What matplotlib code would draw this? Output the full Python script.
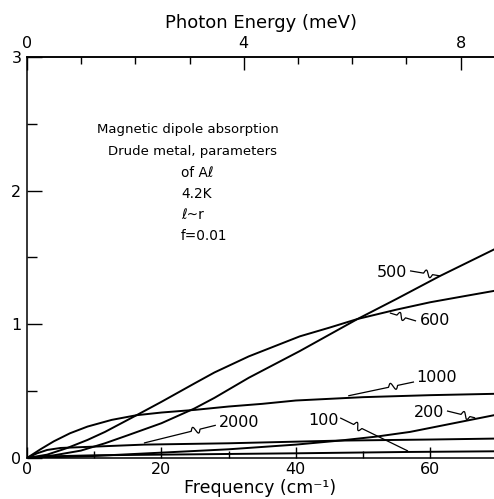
import numpy as np
import matplotlib
matplotlib.use("Agg")
import matplotlib.pyplot as plt
from matplotlib.ticker import MultipleLocator, FixedLocator

# -----------------------
# Absorption curves (frequency in cm^-1, absorption in %)
# -----------------------
x_500 = [0, 4, 8, 11.6, 15, 20, 24.9, 27.9, 33, 40.6, 49.2, 55, 61.4, 69.5]
y_500 = [0, 0.02, 0.055, 0.11, 0.17, 0.26, 0.37, 0.45, 0.60, 0.80, 1.04, 1.19, 1.36, 1.56]

x_600 = [0, 3, 6, 9, 11.6, 16.3, 20, 25, 27.9, 33, 40.6, 45, 49.2, 55, 60, 65, 69.5]
y_600 = [0, 0.025, 0.075, 0.135, 0.195, 0.32, 0.42, 0.56, 0.64, 0.76, 0.91, 0.975, 1.04, 1.11, 1.165, 1.21, 1.25]

x_1000 = [0, 2, 4, 6.4, 9, 12.6, 16.3, 20, 25, 30, 35, 40, 50, 60, 69.5]
y_1000 = [0, 0.065, 0.125, 0.185, 0.235, 0.285, 0.32, 0.34, 0.36, 0.385, 0.405, 0.43, 0.455, 0.47, 0.48]

x_2000 = [0, 1.5, 3, 5, 10, 17.4, 30, 46.5, 60, 69.5]
y_2000 = [0, 0.035, 0.06, 0.075, 0.085, 0.10, 0.11, 0.13, 0.138, 0.145]

x_200 = [0, 10, 20, 30, 40, 46.5, 52, 57, 63, 69.5]
y_200 = [0, 0.015, 0.04, 0.065, 0.10, 0.13, 0.16, 0.195, 0.255, 0.32]

x_100 = [0, 3, 10, 20, 40, 56.6, 69.5]
y_100 = [0, 0.012, 0.02, 0.025, 0.035, 0.045, 0.05]

series = [(x_500, y_500), (x_600, y_600), (x_1000, y_1000),
          (x_2000, y_2000), (x_200, y_200), (x_100, y_100)]

# curve labels: text, label centre, leader start, leader end, wiggle position
curve_labels = ["500", "600", "1000", "200", "100", "2000"]
label_xy = [(54.3, 1.39), (60.7, 1.025), (61.0, 0.60), (59.8, 0.344), (44.1, 0.284), (31.6, 0.262)]
leader_from = [(57.0, 1.40), (57.9, 1.025), (57.6, 0.569), (62.5, 0.352), (46.6, 0.30), (28.1, 0.245)]
leader_to = [(61.5, 1.362), (54.0, 1.085), (47.8, 0.465), (66.7, 0.30), (56.7, 0.052), (17.4, 0.112)]
wiggle_at = [0.45, 0.4, 0.25, 0.5, 0.2, 0.22]

note_lines = ["of A\u2113", "4.2K", "\u2113~r", "f=0.01"]

CM_PER_MEV = 8.0655

FONT = "DejaVu Sans"
plt.rcParams["font.family"] = FONT


def cm_to_mev(x):
    return np.asarray(x) / CM_PER_MEV


def mev_to_cm(e):
    return np.asarray(e) * CM_PER_MEV


def leader(ax, p0, p1, frac, width=9.0, amp=3.5):
    # straight pointer with a small s-bend, built in pixel space
    t = ax.transData
    a = t.transform(p0)
    b = t.transform(p1)
    d = b - a
    length = np.hypot(*d)
    u = d / length
    n = np.array([-u[1], u[0]])
    s = np.linspace(0, length, 300)
    s0 = frac * length
    off = np.zeros_like(s)
    m = (s >= s0) & (s <= s0 + width)
    off[m] = amp * np.sin(2 * np.pi * (s[m] - s0) / width)
    pts = a + np.outer(s, u) + np.outer(off, n)
    data = t.inverted().transform(pts)
    ax.plot(data[:, 0], data[:, 1], color="black", lw=0.9, solid_capstyle="butt")


fig = plt.figure(figsize=(4.94, 4.99), dpi=100)
ax = fig.add_axes([0.0547, 0.0822, 0.9453, 0.8036])

for xs, ys in series:
    ax.plot(xs, ys, color="black", lw=1.4)

ax.set_xlim(0, 69.5)
ax.set_ylim(0, 3)
ax.spines["right"].set_visible(False)
for sp in ("left", "bottom", "top"):
    ax.spines[sp].set_linewidth(1.1)

ax.xaxis.set_major_locator(FixedLocator([0, 20, 40, 60]))
ax.xaxis.set_minor_locator(MultipleLocator(10))
ax.yaxis.set_major_locator(FixedLocator([0, 1, 2, 3]))
ax.yaxis.set_minor_locator(MultipleLocator(0.5))
ax.tick_params(axis="x", which="major", direction="in", length=8, width=1.0, labelsize=11.5, pad=3)
ax.tick_params(axis="x", which="minor", direction="in", length=5, width=1.0)
ax.tick_params(axis="y", which="major", direction="in", length=11, width=1.0, labelsize=11.5, pad=4)
ax.tick_params(axis="y", which="minor", direction="in", length=7, width=1.0)
ax.set_xlabel("Frequency (cm\u207b\u00b9)", fontsize=12.5, va="bottom")
ax.xaxis.set_label_coords(0.5, -0.097)

sec = ax.secondary_xaxis("top", functions=(cm_to_mev, mev_to_cm))
sec.xaxis.set_major_locator(FixedLocator([0, 4, 8]))
sec.xaxis.set_minor_locator(MultipleLocator(1))
sec.tick_params(axis="x", which="major", direction="in", length=9, width=1.0, labelsize=11.5, pad=4)
sec.tick_params(axis="x", which="minor", direction="in", length=5, width=1.0)
sec.spines["top"].set_linewidth(1.1)
sec.set_xlabel("Photon Energy (meV)", fontsize=13, labelpad=6)

# description block
ax.text(23.9, 2.455, "Magnetic dipole absorption", fontsize=9.5, ha="center", va="center")
ax.text(24.6, 2.295, "Drude metal, parameters", fontsize=9.5, ha="center", va="center")
for i, line in enumerate(note_lines):
    ax.text(22.9, 2.135 - 0.157 * i, line, fontsize=9.8, ha="left", va="center")

for txt, xy, p0, p1, f in zip(curve_labels, label_xy, leader_from, leader_to, wiggle_at):
    ax.text(xy[0], xy[1], txt, fontsize=11.5, ha="center", va="center")
    leader(ax, p0, p1, f)

fig.savefig("out.png", dpi=100)
